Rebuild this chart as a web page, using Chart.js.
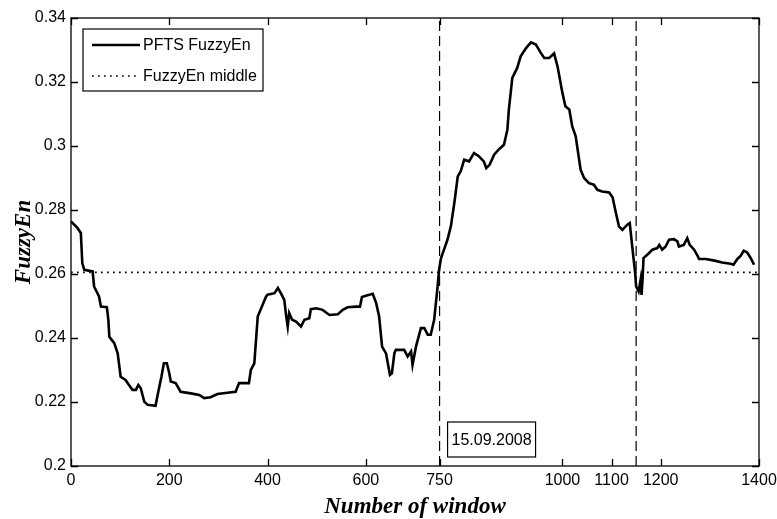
<!DOCTYPE html>
<html>
<head>
<meta charset="utf-8">
<script src="https://cdn.jsdelivr.net/npm/chart.js@4.4.1/dist/chart.umd.min.js"></script>
<style>
  body { margin: 0; background: #fff; }
  #wrap { width: 777px; height: 519px; }
</style>
</head>
<body>
<div id="wrap"><canvas id="myChart" width="777" height="519"></canvas></div>
<script>
// values (window number -> FuzzyEn)
var windowNo = [0, 13, 20, 23, 27, 44, 47, 57, 61, 73, 76, 78, 88, 95, 101, 111, 118, 125, 132, 137,
  142, 149, 156, 172, 177, 184, 189, 195, 200, 203, 213, 223, 244, 261, 271, 284, 298, 318, 335, 342,
  362, 366, 373, 377, 380, 387, 397, 400, 414, 421, 427, 434, 438, 441, 444, 450, 458, 468, 475, 485,
  488, 499, 512, 526, 543, 553, 563, 580, 588, 592, 600, 614, 621, 627, 633, 641, 649, 653, 658, 661,
  678, 685, 692, 695, 702, 712, 719, 726, 732, 739, 746, 749, 753, 759, 766, 773, 780, 787, 793, 800,
  810, 820, 830, 840, 845, 852, 861, 871, 881, 888, 891, 898, 908, 915, 926, 936, 946, 956, 963, 973,
  983, 990, 1000, 1006, 1014, 1020, 1027, 1030, 1037, 1044, 1054, 1064, 1071, 1081, 1095, 1102, 1109, 1115, 1122, 1132,
  1137, 1142, 1148, 1150, 1155, 1159, 1161, 1163, 1165, 1176, 1183, 1193, 1197, 1203, 1210, 1217, 1227, 1234, 1237, 1247,
  1254, 1259, 1268, 1275, 1278, 1292, 1312, 1325, 1342, 1348, 1356, 1363, 1369, 1376, 1383, 1390];
var fuzzyEn = [0.2764, 0.2744, 0.2728, 0.2634, 0.2613, 0.2608, 0.2561, 0.2530, 0.2498, 0.2496, 0.2457, 0.2404, 0.2384, 0.2352, 0.2279, 0.2269, 0.2253, 0.2238, 0.2238, 0.2253,
  0.2243, 0.2201, 0.2191, 0.2188, 0.2227, 0.2279, 0.2321, 0.2321, 0.2290, 0.2264, 0.2259, 0.2232, 0.2227, 0.2222, 0.2212, 0.2215, 0.2225, 0.2229, 0.2232, 0.2259,
  0.2259, 0.2300, 0.2321, 0.2404, 0.2467, 0.2493, 0.2530, 0.2535, 0.2540, 0.2556, 0.2540, 0.2519, 0.2467, 0.2436, 0.2478, 0.2457, 0.2451, 0.2436, 0.2457, 0.2462,
  0.2490, 0.2493, 0.2488, 0.2472, 0.2474, 0.2488, 0.2496, 0.2498, 0.2498, 0.2528, 0.2532, 0.2538, 0.2509, 0.2467, 0.2373, 0.2352, 0.2285, 0.2290, 0.2352, 0.2363,
  0.2363, 0.2342, 0.2358, 0.2316, 0.2373, 0.2431, 0.2431, 0.2410, 0.2410, 0.2457, 0.2561, 0.2613, 0.2650, 0.2676, 0.2707, 0.2749, 0.2822, 0.2905, 0.2921, 0.2957,
  0.2952, 0.2978, 0.2968, 0.2952, 0.2931, 0.2942, 0.2973, 0.2990, 0.3004, 0.3051, 0.3114, 0.3213, 0.3244, 0.3280, 0.3306, 0.3324, 0.3317, 0.3291, 0.3275, 0.3275,
  0.3289, 0.3249, 0.3166, 0.3124, 0.3114, 0.3061, 0.3030, 0.2999, 0.2926, 0.2900, 0.2884, 0.2879, 0.2863, 0.2858, 0.2855, 0.2840, 0.2790, 0.2749, 0.2738, 0.2754,
  0.2759, 0.2686, 0.2603, 0.2561, 0.2545, 0.2582, 0.2535, 0.2582, 0.2650, 0.2665, 0.2676, 0.2681, 0.2691, 0.2676, 0.2686, 0.2707, 0.2709, 0.2702, 0.2686, 0.2691,
  0.2712, 0.2691, 0.2676, 0.2657, 0.2647, 0.2647, 0.2641, 0.2636, 0.2632, 0.2629, 0.2647, 0.2657, 0.2673, 0.2667, 0.2650, 0.2629];

var middleValue = 0.2605;        // FuzzyEn middle
var eventWindows = [750, 1150];   // dashed markers
var eventLabel = '15.09.2008';
var xTicks = [0, 200, 400, 600, 750, 1000, 1100, 1200, 1400];
var yTicks = [0.2, 0.22, 0.24, 0.26, 0.28, 0.3, 0.32, 0.34];
var seriesLabels = ['PFTS FuzzyEn', 'FuzzyEn middle'];

var tickFont = "'Liberation Sans', Arial, sans-serif";
var titleFont = "'Liberation Serif', 'Times New Roman', serif";

var mainPts = [];
for (var i = 0; i < windowNo.length; i++) {
  mainPts.push({x: windowNo[i], y: fuzzyEn[i]});
}
var datasets = [
  {label: seriesLabels[0], data: mainPts, borderColor: '#000', borderWidth: 2.6, pointRadius: 0, tension: 0},
  {label: seriesLabels[1], data: [{x: xTicks[0], y: middleValue}, {x: xTicks[xTicks.length - 1], y: middleValue}],
   borderColor: '#000', borderWidth: 1.7, borderDash: [1.7, 4.3], pointRadius: 0}
];
for (var e = 0; e < eventWindows.length; e++) {
  datasets.push({label: 'event' + e, data: [{x: eventWindows[e], y: yTicks[0]}, {x: eventWindows[e], y: yTicks[yTicks.length - 1]}],
    borderColor: '#000', borderWidth: 1.2, borderDash: [10, 5], pointRadius: 0});
}

// matlab style box, inward ticks, legend and the date label
var matlabBox = {
  id: 'matlabBox',
  afterDatasetsDraw: function(chart) {
    var ctx = chart.ctx, a = chart.chartArea;
    var xs = chart.scales.x, ys = chart.scales.y;
    ctx.save();
    ctx.strokeStyle = '#000';
    ctx.lineWidth = 1.3;
    ctx.setLineDash([]);
    ctx.strokeRect(a.left, a.top, a.right - a.left, a.bottom - a.top);
    ctx.beginPath();
    var tl = 7;
    xTicks.forEach(function(v) {
      var px = Math.round(xs.getPixelForValue(v)) + 0.5;
      ctx.moveTo(px, a.bottom); ctx.lineTo(px, a.bottom - tl);
      ctx.moveTo(px, a.top); ctx.lineTo(px, a.top + tl);
    });
    yTicks.forEach(function(v) {
      var py = Math.round(ys.getPixelForValue(v)) + 0.5;
      ctx.moveTo(a.left, py); ctx.lineTo(a.left + tl, py);
      ctx.moveTo(a.right, py); ctx.lineTo(a.right - tl, py);
    });
    ctx.stroke();

    // legend
    var lx = a.left + 12, ly = a.top + 11, lw = 180, lh = 62;
    ctx.fillStyle = '#fff';
    ctx.fillRect(lx, ly, lw, lh);
    ctx.lineWidth = 1.2;
    ctx.strokeRect(lx, ly, lw, lh);
    ctx.font = "16px " + tickFont;
    ctx.fillStyle = '#000';
    ctx.textBaseline = 'middle';
    ctx.textAlign = 'left';
    for (var k = 0; k < 2; k++) {
      var ds = chart.data.datasets[k];
      var yy = ly + 16 + k * 31;
      ctx.beginPath();
      ctx.lineWidth = ds.borderWidth;
      ctx.setLineDash(ds.borderDash || []);
      ctx.moveTo(lx + 9, yy); ctx.lineTo(lx + 57, yy);
      ctx.stroke();
      ctx.setLineDash([]);
      ctx.fillText(ds.label, lx + 60, yy + 1);
    }

    // date box next to the first event line
    var ex = xs.getPixelForValue(eventWindows[0]);
    var bx = ex + 8, by = a.bottom - 44, bw = 88, bh = 35;
    ctx.fillStyle = '#fff';
    ctx.fillRect(bx, by, bw, bh);
    ctx.lineWidth = 1.2;
    ctx.strokeRect(bx, by, bw, bh);
    ctx.fillStyle = '#000';
    ctx.textAlign = 'center';
    ctx.fillText(eventLabel, bx + bw / 2, by + bh / 2 + 1);
    ctx.restore();
  }
};

var ctx = document.getElementById('myChart').getContext('2d');
var myChart = new Chart(ctx, {
  type: 'line',
  data: {datasets: datasets},
  plugins: [matlabBox],
  options: {
    responsive: false,
    animation: false,
    layout: {padding: {left: 0, right: 0, top: 18, bottom: 0}},
    plugins: {legend: {display: false}, tooltip: {enabled: false}},
    scales: {
      x: {
        type: 'linear', min: 0, max: 1400,
        afterFit: function(s) { s.height = 53; s.paddingLeft = 0; s.paddingRight = 18; },
        afterBuildTicks: function(s) { s.ticks = xTicks.map(function(v) { return {value: v}; }); },
        grid: {display: false, drawTicks: false},
        border: {display: false},
        ticks: {color: '#000', padding: 5, maxRotation: 0, autoSkip: false, font: {family: tickFont, size: 16},
          callback: function(v) { return String(v); }},
        title: {display: true, text: 'Number of window', color: '#000', padding: {top: 0, bottom: 0},
          font: {family: titleFont, size: 23, weight: 'bold', style: 'italic', lineHeight: 1}}
      },
      y: {
        type: 'linear', min: 0.2, max: 0.34,
        afterFit: function(s) { s.width = 71; },
        afterBuildTicks: function(s) { s.ticks = yTicks.map(function(v) { return {value: v}; }); },
        grid: {display: false, drawTicks: false},
        border: {display: false},
        ticks: {color: '#000', padding: 5, font: {family: tickFont, size: 16},
          callback: function(v) { return String(Number(v.toFixed(2))); }},
        title: {display: true, text: 'FuzzyEn', color: '#000', padding: {top: 13, bottom: 0},
          font: {family: titleFont, size: 23, weight: 'bold', style: 'italic', lineHeight: 1}}
      }
    }
  }
});
</script>
</body>
</html>
